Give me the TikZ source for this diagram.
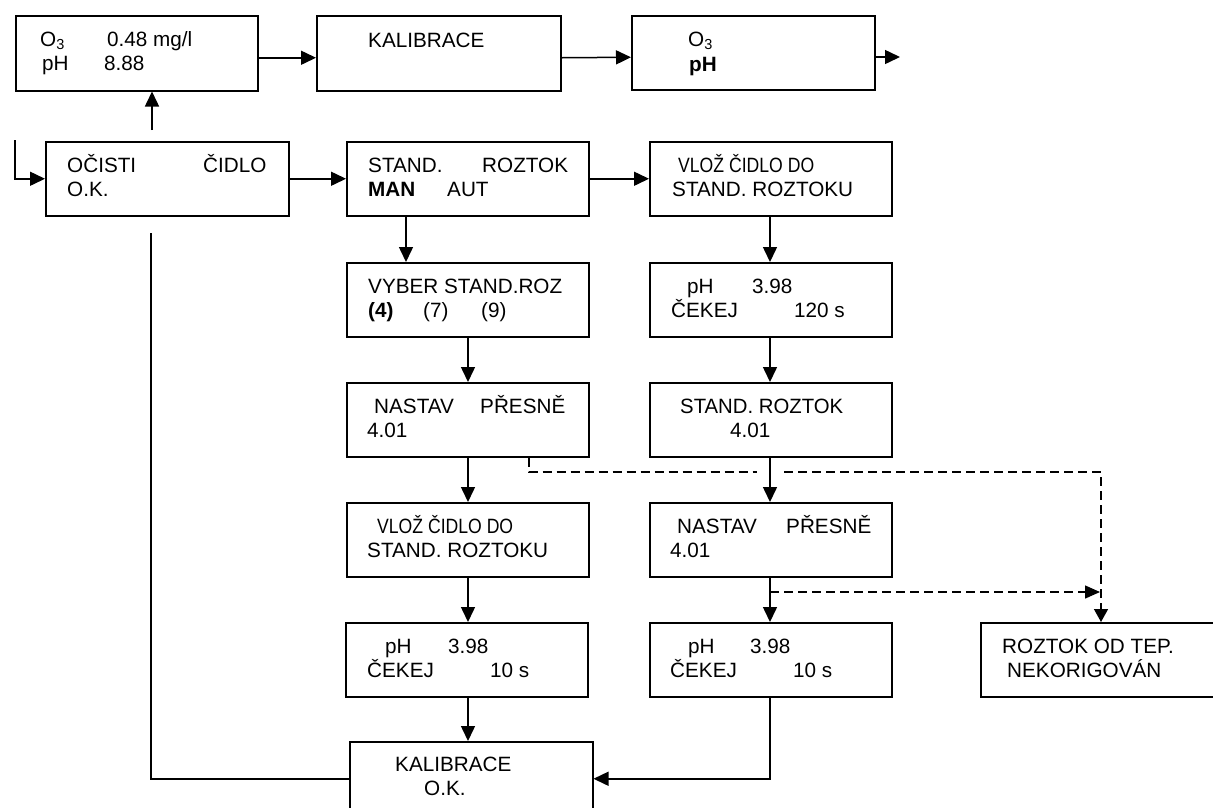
\documentclass[tikz,border=0pt]{standalone}
\usepackage{fontspec}
\usepackage{graphicx}
\setmainfont{Liberation Sans}
\usetikzlibrary{arrows.meta}
\newcommand\condtxt[2]{\resizebox{#1}{\height}{#2}}
\begin{document}
\begin{tikzpicture}[x=1pt,y=-1pt,
  box/.style={draw, line width=1.5pt, anchor=north west, minimum width=242pt, minimum height=74pt, inner sep=0pt},
  txt/.style={anchor=base west, inner sep=0pt, font=\fontsize{20.7}{24}\selectfont},
  conn/.style={line width=1.5pt},
  arr/.style={conn, -{Triangle[length=15pt,width=14pt]}},
  dsh/.style={line width=1.4pt, dash pattern=on 9pt off 5pt}]
\fill[white] (0,0) rectangle (1213,807);
\path[use as bounding box, clip] (0,0) rectangle (1213,807);
% boxes
\node[box, minimum height=75pt] (A) at (15,15) {};
\node[box, minimum width=244pt, minimum height=75pt] (KAL) at (316,15) {};
\node[box, minimum width=243pt] (OPH) at (631,15) {};
\node[box, minimum width=243pt] (OC) at (45,141) {};
\node[box] (ST) at (346,141) {};
\node[box] (VL) at (649,141) {};
\node[box] (VY) at (346,262) {};
\node[box] (P1) at (649,262) {};
\node[box] (NA) at (346,382) {};
\node[box] (S4) at (649,382) {};
\node[box] (VL2) at (346,502) {};
\node[box] (NA2) at (649,502) {};
\node[box] (P2) at (345,622) {};
\node[box] (P3) at (649,622) {};
\node[box, minimum width=243pt] (KO) at (349,741) {};
\node[box] (RO) at (980,622) {};
% texts
\node[txt] (tA1) at (40,46) {O\textsubscript{3}};
\node[txt] (tA2) at (107,46) {0.48 mg/l};
\node[txt] (tA3) at (42,70) {pH};
\node[txt] (tA4) at (104,70) {8.88};
\node[txt] (tK1) at (368,47) {KALIBRACE};
\node[txt] (tO1) at (688,46) {O\textsubscript{3}};
\node[txt] (tO2) at (689,71) {\textbf{pH}};
\node[txt] (tC1) at (67,172) {OČISTI};
\node[txt] (tC2) at (203,172) {ČIDLO};
\node[txt] (tC3) at (67,196) {O.K.};
\node[txt] (tS1) at (368,172) {STAND.};
\node[txt] (tS2) at (482,172) {ROZTOK};
\node[txt] (tS3) at (368,196) {\textbf{MAN}};
\node[txt] (tS4) at (447,196) {AUT};
\node[txt] (tV1) at (678,172) {\condtxt{136pt}{VLOŽ ČIDLO DO}};
\node[txt] (tV2) at (672,196) {STAND. ROZTOKU};
\node[txt] (tY1) at (368,293) {VYBER STAND.ROZ};
\node[txt] (tY2) at (368,317) {\textbf{(4)}};
\node[txt] (tY3) at (423,317) {(7)};
\node[txt] (tY4) at (481,317) {(9)};
\node[txt] (tP1) at (687,293) {pH};
\node[txt] (tP2) at (752,293) {3.98};
\node[txt] (tP3) at (671,317) {ČEKEJ};
\node[txt] (tP4) at (794,317) {120 s};
\node[txt] (tN1) at (374,413) {NASTAV};
\node[txt] (tN2) at (480,413) {PŘESNĚ};
\node[txt] (tN3) at (367,437) {4.01};
\node[txt] (tR1) at (680,413) {\condtxt{163pt}{STAND. ROZTOK}};
\node[txt] (tR2) at (730,437) {4.01};
\node[txt] (tL1) at (377,533) {\condtxt{136pt}{VLOŽ ČIDLO DO}};
\node[txt] (tL2) at (367,557) {STAND. ROZTOKU};
\node[txt] (tM1) at (677,533) {NASTAV};
\node[txt] (tM2) at (786,533) {PŘESNĚ};
\node[txt] (tM3) at (670,557) {4.01};
\node[txt] (tQ1) at (385,653) {pH};
\node[txt] (tQ2) at (448,653) {3.98};
\node[txt] (tQ3) at (367,677) {ČEKEJ};
\node[txt] (tQ4) at (490,677) {10 s};
\node[txt] (tW1) at (688,653) {pH};
\node[txt] (tW2) at (750,653) {3.98};
\node[txt] (tW3) at (670,677) {ČEKEJ};
\node[txt] (tW4) at (793,677) {10 s};
\node[txt] (tZ1) at (395,771) {KALIBRACE};
\node[txt] (tZ2) at (424,795) {O.K.};
\node[txt] (tX1) at (1002,653) {ROZTOK OD TEP.};
\node[txt] (tX2) at (1007,677) {NEKORIGOVÁN};
% helper coordinates
\coordinate (xL) at (406,0);
\coordinate (xM) at (468,0);
\coordinate (xR) at (770,0);
\coordinate (out) at (900,57);
\coordinate (up0) at (152,130);
\coordinate (in0) at (15,140);
\coordinate (lb) at (151,233);
\coordinate (d1) at (529,472);
\coordinate (g1) at (757,472);
\coordinate (g2) at (784,472);
\coordinate (dc) at (1101,472);
\coordinate (d3) at (770,592);
\coordinate (d4) at (1100,592);
% connectors top row
\draw[arr] ([yshift=-4.5pt]A.east) -- ([yshift=-4.5pt]KAL.west);
\draw[arr] ([yshift=-4.5pt]KAL.west -| KAL.east) -- ([yshift=-4.5pt]OPH.west);
\draw[arr] (OPH.east |- out) -- (out);
\draw[arr] (up0) -- (up0 |- A.south);
\draw[arr] (in0) |- (OC.west);
\draw[arr] (OC.east) -- (ST.west);
\draw[arr] (ST.east) -- (VL.west);
% left column
\draw[arr] (ST.south -| xL) -- (VY.north -| xL);
\draw[arr] (VY.south -| xM) -- (NA.north -| xM);
\draw[arr] (NA.south -| xM) -- (VL2.north -| xM);
\draw[arr] (VL2.south -| xM) -- (P2.north -| xM);
\draw[arr] (P2.south -| xM) -- (KO.north -| xM);
% right column
\draw[arr] (VL.south -| xR) -- (P1.north -| xR);
\draw[arr] (P1.south -| xR) -- (S4.north -| xR);
\draw[arr] (S4.south -| xR) -- (NA2.north -| xR);
\draw[arr] (NA2.south -| xR) -- (P3.north -| xR);
\draw[arr] (P3.south -| xR) |- (KO.east);
% return line
\draw[conn] (KO.west) -| (lb);
% dashed
\draw[dsh] (NA.south -| d1) -- (d1) -- (g1);
\draw[dsh, -{Triangle[length=13pt,width=14pt]}] (g2) -- (dc) -- (RO.north -| dc);
\draw[dsh, -{Triangle[length=15pt,width=13pt]}] (d3) -- (d4);
\end{tikzpicture}
\end{document}
